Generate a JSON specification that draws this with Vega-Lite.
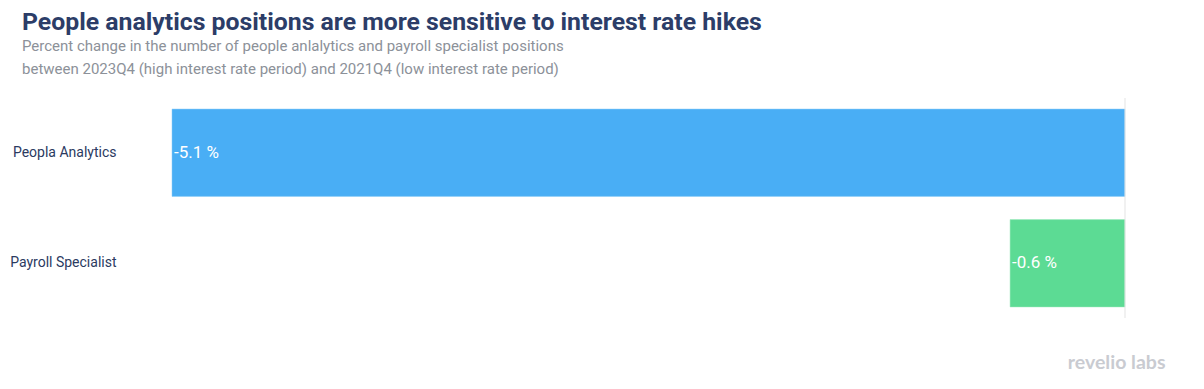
{
  "$schema": "https://vega.github.io/schema/vega-lite/v6.json",
  "autosize": {"type": "none"},
  "width": 953,
  "height": 220,
  "padding": {"left": 172, "top": 98, "right": 79, "bottom": 71},
  "background": "white",
  "title": {
    "text": "People analytics positions are more sensitive to interest rate hikes",
    "subtitle": ["Percent change in the number of people anlalytics and payroll specialist positions", "between 2023Q4 (high interest rate period) and 2021Q4 (low interest rate period)"],
    "anchor": "start",
    "frame": "group",
    "dx": -150,
    "offset": 21,
    "font": "Roboto",
    "fontSize": 24.8,
    "fontWeight": "bold",
    "color": "#2c3d68",
    "subtitleFont": "Roboto",
    "subtitleFontSize": 15,
    "subtitleColor": "#8c9199",
    "subtitleLineHeight": 22,
    "subtitlePadding": 5
  },
  "config": {"view": {"stroke": null}},
  "data": {
    "values": [
      {"position": "Peopla Analytics", "change": -5.1, "label": "-5.1 %"},
      {"position": "Payroll Specialist", "change": -0.615, "label": "-0.6 %"}
    ]
  },
  "encoding": {
    "y": {
      "field": "position",
      "type": "nominal",
      "sort": null,
      "scale": {"paddingInner": 0.21, "paddingOuter": 0.1},
      "axis": {
        "title": null,
        "domain": false,
        "ticks": false,
        "labelPadding": 56,
        "labelFont": "Roboto",
        "labelFontSize": 14,
        "labelColor": "#2b3a5f"
      }
    }
  },
  "layer": [
    {
      "mark": {"type": "bar", "strokeWidth": 1, "strokeOpacity": 0.5},
      "encoding": {
        "x": {
          "field": "change",
          "type": "quantitative",
          "scale": {"domain": [-5.1, 0], "nice": false, "zero": true},
          "axis": {
            "title": "revelio labs",
            "domain": false,
            "ticks": false,
            "labels": false,
            "grid": false,
            "titleFont": "Lato",
            "titleFontSize": 19.5,
            "titleFontWeight": "bold",
            "titleColor": "#c9cbd1",
            "titleAlign": "right",
            "titleAnchor": "end",
            "titleX": 993,
            "titleY": 44,
            "titleBaseline": "middle"
          }
        },
        "color": {
          "field": "position",
          "type": "nominal",
          "scale": {"domain": ["Peopla Analytics", "Payroll Specialist"], "range": ["#49aef5", "#5cdb94"]},
          "legend": null
        },
        "stroke": {
          "field": "position",
          "type": "nominal",
          "scale": {"domain": ["Peopla Analytics", "Payroll Specialist"], "range": ["#8ccdf9", "#9be9bc"]},
          "legend": null
        }
      }
    },
    {
      "mark": {"type": "text", "align": "left", "baseline": "middle", "dx": 2, "font": "Roboto", "fontSize": 17, "color": "white"},
      "encoding": {
        "x": {"field": "change", "type": "quantitative"},
        "text": {"field": "label", "type": "nominal"}
      }
    },
    {
      "data": {"values": [{"zero": 0}]},
      "mark": {"type": "rule", "color": "#e3e3e3", "strokeWidth": 1},
      "encoding": {"x": {"field": "zero", "type": "quantitative"}, "y": null}
    }
  ]
}
